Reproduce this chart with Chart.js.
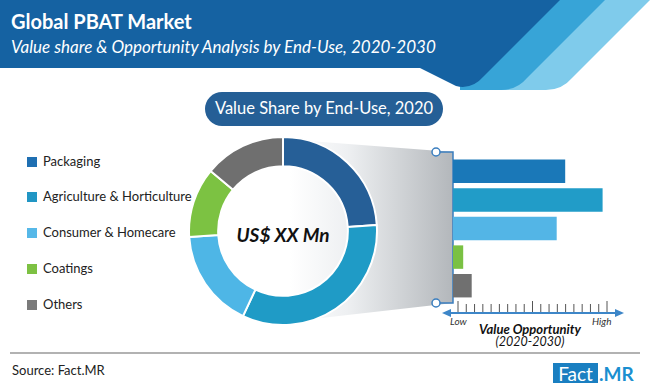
<!DOCTYPE html>
<html>
<head>
<meta charset="utf-8">
<script src="https://cdn.jsdelivr.net/npm/chart.js@4.4.1/dist/chart.umd.min.js"></script>
<style>
  html,body{margin:0;padding:0;background:#fff;}
  #wrap{position:relative;width:650px;height:388px;overflow:hidden;font-family:Lato,"Open Sans",sans-serif;}
  svg{position:absolute;left:0;top:0;}
  #donutBox{position:absolute;left:188px;top:136px;width:190px;height:190px;}
  #barBox{position:absolute;left:453px;top:157px;width:170px;height:143px;}
  #legend{position:absolute;left:27px;top:0;}
  .li{position:absolute;left:0;white-space:nowrap;font-size:13px;color:#222;}
  .sw{display:inline-block;width:10px;height:10px;vertical-align:middle;margin-right:6px;position:relative;top:-1px;}
</style>
</head>
<body>
<div id="wrap">
<svg width="650" height="388" viewBox="0 0 650 388">
  <defs>
    <linearGradient id="proj" x1="290" y1="0" x2="453" y2="0" gradientUnits="userSpaceOnUse">
      <stop offset="0" stop-color="#ffffff"/>
      <stop offset="0.35" stop-color="#eef0f2"/>
      <stop offset="1" stop-color="#b3b7bb"/>
    </linearGradient>
  </defs>
  <!-- header stripes -->
  <path d="M500 0 L650 0 L572 78 Q562 90 546 90 L500 90 Z" fill="#7fcbeb"/>
  <path d="M460 0 L605 0 L527 78 Q517 90 501 90 L460 90 Z" fill="#37a4d7"/>
  <path d="M0 0 L560 0 L484 76 Q472 90 456 86 L420 68 L0 68 Z" fill="#1562a2"/>
  <text x="11" y="29" font-family="Lato" font-weight="bold" font-size="20" fill="#fff">Global PBAT Market</text>
  <text x="11" y="53" font-family="Lato" font-style="italic" font-size="17" fill="#fff">Value share &amp; Opportunity Analysis by End-Use, 2020-2030</text>
  <!-- pill -->
  <rect x="205" y="92" width="238" height="34" rx="17" fill="#255f96"/>
  <text x="324" y="114" text-anchor="middle" font-family="Lato" font-size="16.5" fill="#fff">Value Share by End-Use, 2020</text>
  <!-- projection -->
  <path d="M283 139 L453 152 L453 303 L286 322 Z" fill="url(#proj)"/>
  <!-- bracket -->
  <path d="M436 152 L453 152 L453 303 L436 303" fill="none" stroke="#3a7ebf" stroke-width="1.5"/>
  <circle cx="436" cy="152" r="4" fill="#fff" stroke="#3a7ebf" stroke-width="1.5"/>
  <circle cx="436" cy="303" r="4" fill="#fff" stroke="#3a7ebf" stroke-width="1.5"/>
  <!-- axis -->
  <g id="ticks" stroke="#555" stroke-width="1"></g>
  <line x1="448" y1="313" x2="618" y2="313" stroke="#3d86c8" stroke-width="2"/>
  <path d="M442 313 L451 309 L451 317 Z" fill="#3d86c8"/>
  <path d="M624 313 L615 309 L615 317 Z" fill="#3d86c8"/>
  <text x="450" y="325" font-family="Lato" font-style="italic" font-size="10" fill="#333">Low</text>
  <text x="592" y="325" font-family="Lato" font-style="italic" font-size="10" fill="#333">High</text>
  <text x="530" y="334" text-anchor="middle" font-family="Lato" font-style="italic" font-weight="bold" font-size="13" fill="#111">Value Opportunity</text>
  <text x="530" y="346" text-anchor="middle" font-family="Lato" font-style="italic" font-size="12.5" fill="#111">(2020-2030)</text>
  <!-- center text -->
  <text x="283" y="242" text-anchor="middle" font-family="Lato" font-style="italic" font-weight="bold" font-size="19" fill="#111">US$ XX Mn</text>
  <!-- footer -->
  <line x1="10" y1="353" x2="640" y2="353" stroke="#666" stroke-width="1.2"/>
  <text x="12" y="375" font-family="Lato" font-size="13" fill="#222">Source: Fact.MR</text>
  <rect x="553" y="363" width="45" height="20" fill="#1a7fc1"/>
  <text x="575.5" y="381" text-anchor="middle" font-family="Lato" font-size="19" fill="#fff">Fact</text>
  <text x="599" y="381" font-family="Lato" font-weight="bold" font-size="19" fill="#1a8fd0">.MR</text>
</svg>
<div id="legend"></div>
<div id="donutBox"><canvas id="donut"></canvas></div>
<div id="barBox"><canvas id="bars"></canvas></div>
</div>
<script>
const categories = ["Packaging", "Agriculture & Horticulture", "Consumer & Homecare", "Coatings", "Others"];
const valueShare2020 = [24, 33, 17, 12, 14];
const valueOpportunity = [66, 88, 61, 6, 11];
const donutColors = ["#265f97", "#1f9bc6", "#4eb6e6", "#7cc242", "#6f6f6f"];
const barColors = ["#1a78b8", "#219cc8", "#53b5e6", "#7ac143", "#707070"];
const legendColors = ["#1f6fb2", "#2196c4", "#56b8e8", "#7dc143", "#7a7a7a"];
const axisLabels = ["Low", "High"];

// legend
const legendY = [162, 197, 233, 269, 305];
const lg = document.getElementById('legend');
categories.forEach((c, i) => {
  const d = document.createElement('div');
  d.className = 'li';
  d.style.top = (legendY[i] - 9) + 'px';
  d.innerHTML = '<span class="sw" style="background:' + legendColors[i] + '"></span>' + c.replace('&', '&amp;');
  lg.appendChild(d);
});

// ticks
const tg = document.getElementById('ticks');
for (let i = 0; i < 19; i++) {
  const x = 458 + i * (607 - 458) / 18;
  const tall = (i % 9 === 0);
  const l = document.createElementNS('http://www.w3.org/2000/svg', 'line');
  l.setAttribute('x1', x); l.setAttribute('x2', x);
  l.setAttribute('y1', tall ? 301 : 304); l.setAttribute('y2', 312);
  tg.appendChild(l);
}

new Chart(document.getElementById('donut'), {
  type: 'doughnut',
  data: { labels: categories, datasets: [{ data: valueShare2020, backgroundColor: donutColors, borderColor: '#fff', borderWidth: 2 }] },
  options: {
    responsive: true, maintainAspectRatio: false, animation: false, cutout: '69%',
    layout: { padding: 0 },
    plugins: { legend: { display: false }, tooltip: { enabled: false } }
  }
});

new Chart(document.getElementById('bars'), {
  type: 'bar',
  data: { labels: categories, datasets: [{ data: valueOpportunity, backgroundColor: barColors, borderWidth: 0, categoryPercentage: 1, barPercentage: 0.82 }] },
  options: {
    indexAxis: 'y', responsive: true, maintainAspectRatio: false, animation: false,
    layout: { padding: 0 },
    scales: {
      x: { display: false, min: 0, max: 100 },
      y: { display: false }
    },
    plugins: { legend: { display: false }, tooltip: { enabled: false } }
  }
});
</script>
</body>
</html>
